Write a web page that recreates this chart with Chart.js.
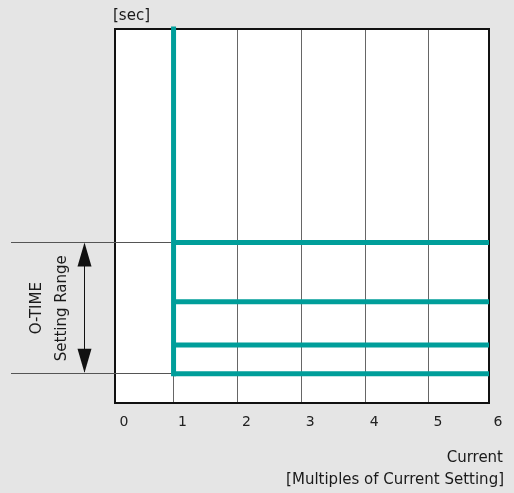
<!DOCTYPE html>
<html>
<head>
<meta charset="utf-8">
<script src="https://cdn.jsdelivr.net/npm/chart.js@4.4.0/dist/chart.umd.min.js"></script>
<style>
  html, body { margin: 0; padding: 0; background: #e5e5e5; }
  #wrap { width: 514px; height: 493px; }
</style>
</head>
<body>
<div id="wrap"><canvas id="c" width="514" height="493"></canvas></div>
<script>
// ---- data ----
const xMin = 0.083, xMax = 5.94;                // visible current range
const xTickValues = [xMin, 1, 2, 3, 4, 5, xMax];
const xTickLabels = ['0', '1', '2', '3', '4', '5', '6'];
const pickupMultiple = 1;          // curve starts at 1 x current setting
const maxMultiple = 6;
const timeLevels = [42.9, 27.1, 15.5, 7.8];   // O-TIME definite-time levels (relative)
const yMin = 0, yMax = 100;
const yAxisLabel = '[sec]';
const xTitle1 = 'Current';
const xTitle2 = '[Multiples of Current Setting]';
const rangeLabel1 = 'O-TIME';
const rangeLabel2 = 'Setting Range';

const TEAL = '#009e9a';
const FONT = '"DejaVu Sans", sans-serif';

const datasets = [];
datasets.push({
  data: [{x: pickupMultiple, y: yMax}, {x: pickupMultiple, y: Math.min(...timeLevels)}],
  borderColor: TEAL, borderWidth: 5, pointRadius: 0, showLine: true,
  borderCapStyle: 'square', clip: false
});
timeLevels.forEach(v => {
  datasets.push({
    data: [{x: pickupMultiple, y: v}, {x: maxMultiple, y: v}],
    borderColor: TEAL, borderWidth: 5, pointRadius: 0, showLine: true,
    borderCapStyle: 'butt'
  });
});

const decor = {
  id: 'decor',
  beforeDraw(chart) {
    const {ctx, chartArea: a} = chart;
    ctx.save();
    ctx.fillStyle = '#ffffff';
    ctx.fillRect(a.left, a.top, a.right - a.left, a.bottom - a.top);
    ctx.restore();
  },
  beforeDatasetsDraw(chart) {
    const {ctx, chartArea: a} = chart;
    ctx.save();
    ctx.strokeStyle = '#111';
    ctx.lineWidth = 2;
    ctx.strokeRect(a.left, a.top, a.right - a.left, a.bottom - a.top);
    ctx.restore();
  },
  afterDatasetsDraw(chart) {
    const {ctx, chartArea: a, scales: {x, y}} = chart;
    const yHi = y.getPixelForValue(Math.max(...timeLevels));
    const yLo = y.getPixelForValue(Math.min(...timeLevels));
    const xP = x.getPixelForValue(pickupMultiple) - 2.5;
    ctx.save();
    // extension lines
    ctx.strokeStyle = '#555';
    ctx.lineWidth = 1;
    [yHi, yLo].forEach(py => {
      ctx.beginPath();
      ctx.moveTo(11, Math.round(py) - 0.5);
      ctx.lineTo(xP, Math.round(py) - 0.5);
      ctx.stroke();
    });
    // double arrow
    const ax = 84.5;
    const headL = 24, headW = 7;
    ctx.strokeStyle = '#111';
    ctx.beginPath();
    ctx.moveTo(ax, yHi + 2);
    ctx.lineTo(ax, yLo - 2);
    ctx.stroke();
    ctx.fillStyle = '#111';
    ctx.beginPath();
    ctx.moveTo(ax, yHi);
    ctx.lineTo(ax - headW, yHi + headL);
    ctx.lineTo(ax + headW, yHi + headL);
    ctx.closePath();
    ctx.fill();
    ctx.beginPath();
    ctx.moveTo(ax, yLo - 1);
    ctx.lineTo(ax - headW, yLo - 1 - headL);
    ctx.lineTo(ax + headW, yLo - 1 - headL);
    ctx.closePath();
    ctx.fill();
    // rotated labels
    const cy = (yHi + yLo) / 2;
    ctx.fillStyle = '#1a1a1a';
    ctx.font = '15px ' + FONT;
    ctx.textAlign = 'center';
    ctx.textBaseline = 'middle';
    [[37.5, rangeLabel1], [62.5, rangeLabel2]].forEach(([cx, t]) => {
      ctx.save();
      ctx.translate(cx, cy);
      ctx.rotate(-Math.PI / 2);
      ctx.fillText(t, 0, 0);
      ctx.restore();
    });
    // [sec]
    ctx.textAlign = 'left';
    ctx.textBaseline = 'middle';
    ctx.font = '15px ' + FONT;
    ctx.fillText(yAxisLabel, a.left - 2, 16);
    // x titles
    ctx.textAlign = 'right';
    ctx.textBaseline = 'alphabetic';
    ctx.fillText(xTitle1, 503, 462);
    ctx.fillText(xTitle2, 504, 484);
    ctx.restore();
  }
};

new Chart(document.getElementById('c'), {
  type: 'scatter',
  data: { datasets },
  options: {
    responsive: false,
    animation: false,
    devicePixelRatio: 1,
    layout: { padding: { top: 29, right: 25, left: 0, bottom: 0 } },
    plugins: { legend: { display: false }, tooltip: { enabled: false } },
    scales: {
      x: {
        type: 'linear',
        min: xMin, max: xMax,
        afterBuildTicks: s => { s.ticks = xTickValues.map(v => ({ value: v })); },
        afterFit: s => { s.height = 90; },
        ticks: {
          callback: (v, i) => xTickLabels[i],
          font: { family: FONT, size: 14 },
          color: '#222',
          labelOffset: 9,
          padding: 11,
          maxRotation: 0,
          autoSkip: false
        },
        grid: { color: '#666', lineWidth: 1, drawTicks: false },
        border: { display: false }
      },
      y: {
        type: 'linear',
        min: yMin, max: yMax,
        afterFit: s => { s.width = 115; },
        ticks: { display: false },
        grid: { display: false, drawTicks: false },
        border: { display: false }
      }
    }
  },
  plugins: [decor]
});
</script>
</body>
</html>
